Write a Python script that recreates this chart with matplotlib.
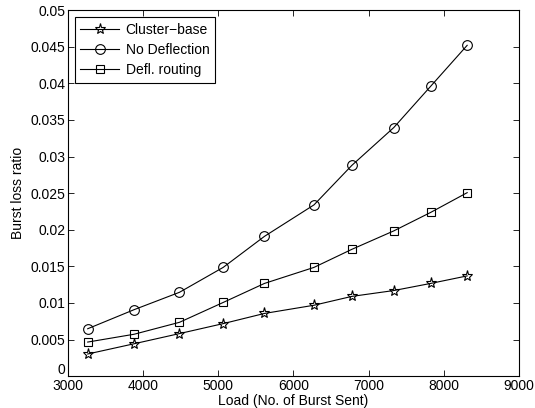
import matplotlib
matplotlib.use("Agg")
import matplotlib.pyplot as plt
import matplotlib.transforms as mtransforms

plt.rcParams['font.family'] = ['Liberation Sans', 'DejaVu Sans']

load = [3263, 3881, 4484, 5065, 5614, 6273, 6777, 7335, 7825, 8311]
cluster_base = [0.00303, 0.00443, 0.00582, 0.00718, 0.00857, 0.00969, 0.0109, 0.0117, 0.01267, 0.0137]
no_deflection = [0.00648, 0.00909, 0.01146, 0.01486, 0.0191, 0.0234, 0.0288, 0.03397, 0.0396, 0.0452]
defl_routing = [0.00466, 0.00573, 0.00736, 0.01007, 0.01267, 0.01486, 0.01733, 0.01985, 0.02237, 0.02507]

xticks = [3000, 4000, 5000, 6000, 7000, 8000, 9000]
yticks = [0, 0.005, 0.01, 0.015, 0.02, 0.025, 0.03, 0.035, 0.04, 0.045, 0.05]
ytick_labels = ['0', '0.005', '0.01', '0.015', '0.02', '0.025', '0.03', '0.035', '0.04', '0.045', '0.05']

FS = 10

fig = plt.figure(figsize=(5.35, 4.08), dpi=100)
ax = fig.add_axes([0.127, 0.078, 0.843, 0.897])

ax.plot(load, cluster_base, color='black', lw=0.8, marker='*', ms=8, mfc='none', mec='black', mew=0.8, label='Cluster\u2212base')
ax.plot(load, no_deflection, color='black', lw=0.8, marker='o', ms=7, mfc='none', mec='black', mew=0.8, label='No Deflection')
ax.plot(load, defl_routing, color='black', lw=0.8, marker='s', ms=6, mfc='none', mec='black', mew=0.8, label='Defl. routing')

ax.set_xlim(3000, 9000)
ax.set_ylim(0, 0.05)
ax.set_xticks(xticks)
ax.set_xticklabels([str(t) for t in xticks])
ax.set_yticks(yticks)
ax.set_yticklabels(ytick_labels)
ax.tick_params(direction='in', top=True, right=True, labelsize=FS, length=4, width=0.6, pad=2)
for s in ax.spines.values():
    s.set_linewidth(0.8)

# nudge the bottom y tick label up (as in the reference) so it clears the x labels
ylab0 = ax.get_yticklabels()[0]
ylab0.set_transform(ylab0.get_transform() + mtransforms.ScaledTranslation(0, 8 / 100, fig.dpi_scale_trans))

ax.set_xlabel('Load (No. of Burst Sent)', fontsize=FS, labelpad=1)
ax.set_ylabel('Burst loss ratio', fontsize=FS, labelpad=4)

leg = ax.legend(loc='upper left', fontsize=FS, fancybox=False, edgecolor='black',
                framealpha=1, handlelength=2.8, borderaxespad=0.5, labelspacing=0.45,
                borderpad=0.4, handletextpad=0.45)
leg.get_frame().set_linewidth(0.8)

fig.savefig('out.png', dpi=100)
